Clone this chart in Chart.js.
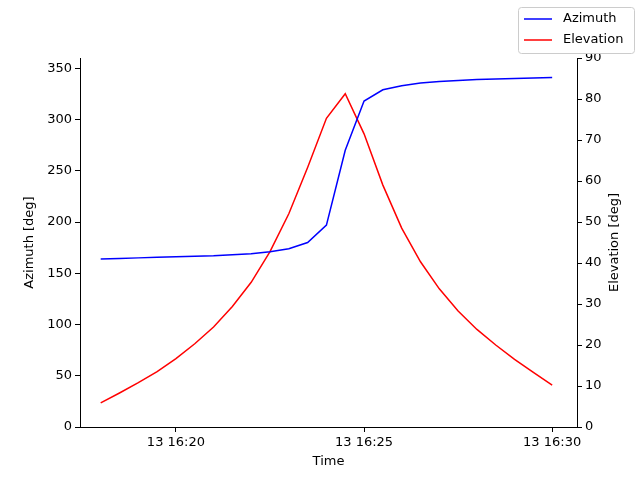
<!DOCTYPE html>
<html lang="en">
<head>
    <meta charset="UTF-8">
    <title>Azimuth / Elevation</title>
    <script src="https://cdn.jsdelivr.net/npm/chart.js"></script>
    <style>
        body { margin: 0; background: white; }
        #wrap { width: 640px; height: 480px; }
    </style>
</head>
<body>
<div id="wrap"><canvas id="chart" width="640" height="480"></canvas></div>
<script>
    // Minutes past 16:00 on day 13, one sample every 30 s
    const minutes = [18, 18.5, 19, 19.5, 20, 20.5, 21, 21.5, 22, 22.5, 23, 23.5, 24,
                     24.5, 25, 25.5, 26, 26.5, 27, 27.5, 28, 28.5, 29, 29.5, 30];
    const azimuth = [164, 164.5, 165, 165.5, 166, 166.5, 167, 168, 169, 171, 174, 180, 197,
                     270, 318, 329, 333, 335.5, 337, 338, 339, 339.5, 340, 340.5, 341];
    const elevation = [5.9, 8.3, 10.8, 13.5, 16.7, 20.3, 24.4, 29.4, 35.3, 42.8, 52, 63.3, 75.3,
                       81.3, 71.5, 59, 48.5, 40.3, 33.7, 28.3, 23.8, 20, 16.5, 13.3, 10.2];
    const timeTicks = [20, 25, 30];

    const font = { family: 'DejaVu Sans', size: 13 };
    const axisCommon = {
        border: { color: 'black', width: 1 },
        grid: { drawOnChartArea: false, tickLength: 5, tickColor: 'black' },
        ticks: { color: 'black', font: font }
    };

    // axis titles and legend box drawn matplotlib style
    const decorations = {
        id: 'decorations',
        afterDraw(chart) {
            const ctx = chart.ctx;
            const area = chart.chartArea;
            ctx.save();
            ctx.font = '13px "DejaVu Sans"';
            ctx.fillStyle = 'black';
            ctx.textAlign = 'center';
            ctx.textBaseline = 'middle';
            ctx.fillText('Time', (area.left + area.right) / 2, 462);
            [['Azimuth [deg]', 30], ['Elevation [deg]', 615]].forEach(([text, x]) => {
                ctx.save();
                ctx.translate(x, (area.top + area.bottom) / 2);
                ctx.rotate(-Math.PI / 2);
                ctx.fillText(text, 0, 0);
                ctx.restore();
            });

            ctx.fillStyle = 'white';
            ctx.strokeStyle = '#cccccc';
            ctx.lineWidth = 1;
            ctx.beginPath();
            ctx.roundRect(518.5, 7.5, 116, 46, 3);
            ctx.fill();
            ctx.stroke();
            ctx.textAlign = 'left';
            const items = [['Azimuth', 'blue', 19], ['Elevation', 'red', 40]];
            items.forEach(([label, color, y]) => {
                ctx.strokeStyle = color;
                ctx.lineWidth = 1.5;
                ctx.beginPath();
                ctx.moveTo(524, y);
                ctx.lineTo(552, y);
                ctx.stroke();
                ctx.fillStyle = 'black';
                ctx.fillText(label, 563, y);
            });
            ctx.restore();
        }
    };

    new Chart(document.getElementById('chart'), {
        type: 'line',
        data: {
            datasets: [{
                label: 'Azimuth',
                data: minutes.map((m, i) => ({ x: m, y: azimuth[i] })),
                borderColor: 'blue',
                borderWidth: 1.5,
                pointRadius: 0,
                yAxisID: 'y'
            }, {
                label: 'Elevation',
                data: minutes.map((m, i) => ({ x: m, y: elevation[i] })),
                borderColor: 'red',
                borderWidth: 1.5,
                pointRadius: 0,
                yAxisID: 'y2'
            }]
        },
        options: {
            responsive: false,
            animation: false,
            layout: { padding: { top: 58, left: 0, right: 0, bottom: 0 } },
            plugins: { legend: { display: false }, tooltip: { enabled: false } },
            scales: {
                x: {
                    ...axisCommon,
                    type: 'linear',
                    min: 17.45,
                    max: 30.66,
                    afterBuildTicks: axis => { axis.ticks = timeTicks.map(v => ({ value: v })); },
                    afterFit: axis => { axis.height = 53; },
                    ticks: { ...axisCommon.ticks, maxRotation: 0, callback: v => '13 16:' + v }
                },
                y: {
                    ...axisCommon,
                    position: 'left',
                    min: 0,
                    max: 360,
                    afterBuildTicks: axis => {
                        axis.ticks = [0, 50, 100, 150, 200, 250, 300, 350].map(v => ({ value: v }));
                    },
                    afterFit: axis => { axis.width = 80; }
                },
                y2: {
                    ...axisCommon,
                    position: 'right',
                    min: 0,
                    max: 90,
                    ticks: { ...axisCommon.ticks, stepSize: 10 },
                    afterFit: axis => { axis.width = 63; }
                }
            }
        },
        plugins: [decorations]
    });
</script>
</body>
</html>
